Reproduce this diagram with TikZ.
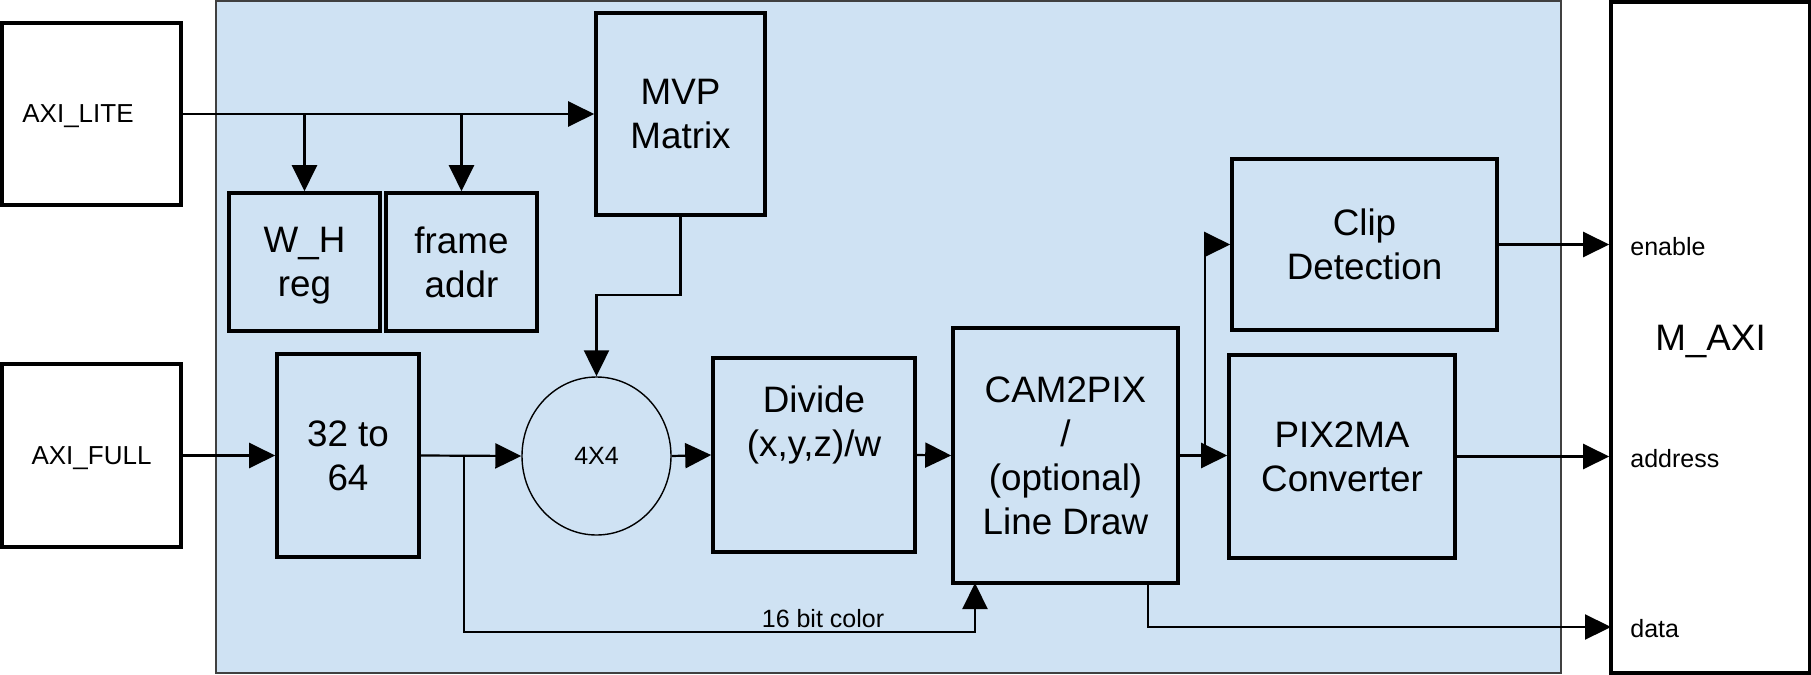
\documentclass[tikz,border=0pt]{standalone}
\usepackage{fontspec}
\setmainfont{Liberation Sans}
\usetikzlibrary{arrows.meta,shapes.geometric}
\definecolor{bgblue}{RGB}{207,226,243}
\begin{document}
\begin{tikzpicture}[x=0.5pt,y=-0.5pt,
  blk/.style={draw=black, line width=1.8pt, fill=bgblue, align=center, inner sep=0pt, text depth=0pt, font=\fontsize{18.4}{22}\selectfont},
  io/.style={draw=black, line width=1.8pt, fill=white, align=center, inner sep=0pt, text depth=0pt, font=\fontsize{13}{15}\selectfont},
  arr/.style={line width=1.1pt, -{Triangle[length=13pt,width=12.5pt]}},
  port/.style={anchor=base west, inner sep=0pt, font=\fontsize{12.5}{15}\selectfont},
]
\useasboundingbox (0,0) rectangle (1811,675);
% background region
\node[draw=black!75, line width=0.6pt, fill=bgblue, minimum width=672.5pt, minimum height=336pt, inner sep=0pt] (bg) at (888.5,337) {};
% outer interfaces
\node[io, minimum width=89.5pt, minimum height=91pt, label={[font=\fontsize{13}{15}\selectfont, text depth=0pt, inner sep=0pt, xshift=-6.75pt]center:AXI\_LITE}] (axilite) at (91.5,114) {};
\node[io, minimum width=89.5pt, minimum height=91.5pt] (axifull) at (91.5,455.5) {AXI\_FULL};
\node[io, minimum width=99.5pt, minimum height=335.5pt, font=\fontsize{18.4}{22}\selectfont] (maxi) at (1710.5,337.5) {M\_AXI};
% inner blocks
\node[blk, minimum width=84.5pt, minimum height=101pt] (mvp) at (680.5,114) {MVP\\Matrix};
\node[blk, minimum width=75.5pt, minimum height=69pt] (wh) at (304.5,262) {W\_H\\reg};
\node[blk, minimum width=75.5pt, minimum height=69pt] (frame) at (461.5,262) {frame\\addr};
\node[blk, minimum width=71pt, minimum height=101.5pt] (c3264) at (348,455.5) {32 to\\64};
\node[ellipse, draw=black, line width=0.7pt, fill=bgblue, inner sep=0pt, text depth=0pt, minimum width=74.5pt, minimum height=79pt, font=\fontsize{12.5}{14}\selectfont] (mult) at (596.5,456) {4X4};
\node[blk, minimum width=101pt, minimum height=97pt, label={[align=center, text depth=0pt, inner sep=0pt, font=\fontsize{18.4}{22}\selectfont, yshift=16.9pt]center:Divide\\(x,y,z)/w}] (div) at (814,455) {};
\node[blk, minimum width=112.5pt, minimum height=127.5pt] (cam) at (1065.5,455.5) {CAM2PIX\\/\\(optional)\\Line Draw};
\node[blk, minimum width=132.5pt, minimum height=85.5pt] (clip) at (1364.5,244.5) {Clip\\Detection};
\node[blk, minimum width=113pt, minimum height=101.5pt] (pix) at (1342,456.5) {PIX2MA\\Converter};
% connectors
\draw[arr] (axilite.east) -- (mvp.west);
\draw[arr] (wh.north |- axilite.east) -- (wh.north);
\draw[arr] (frame.north |- axilite.east) -- (frame.north);
\coordinate (mvpbend) at (596.5,295);
\draw[arr] (mvp.south) |- (mvpbend) -- (mult.north);
\draw[arr] (axifull.east) -- (c3264.west);
\draw[arr] (c3264.east) -- (mult.west);
\coordinate (split) at (464,455.5);
\coordinate (colorlow) at (464,632);
\coordinate (camin) at (975,583);
\draw[arr] (split) -- (colorlow) -| (camin);
\node[anchor=base, inner sep=0pt, font=\fontsize{12.5}{15}\selectfont] (colorlbl) at (823,627) {16 bit color};
\draw[arr] (mult.east) -- (div.west);
\draw[arr] (div.east) -- (cam.west);
\draw[arr] (cam.east) -- (cam.east -| pix.west);
\coordinate (split2) at (1205,455.5);
\draw[arr] (split2) |- (clip.west);
\draw[arr] (clip.east) -- (clip.east -| maxi.west);
\draw[arr] (pix.east) -- (pix.east -| maxi.west);
\coordinate (camout) at (1148,583);
\coordinate (datain) at (1611,627);
\draw[arr] (camout) |- (datain);
% port labels
\node[port] (lenable) at (1630,255) {enable};
\node[port] (laddress) at (1630,467) {address};
\node[port] (ldata) at (1630,637) {data};
\end{tikzpicture}
\end{document}
